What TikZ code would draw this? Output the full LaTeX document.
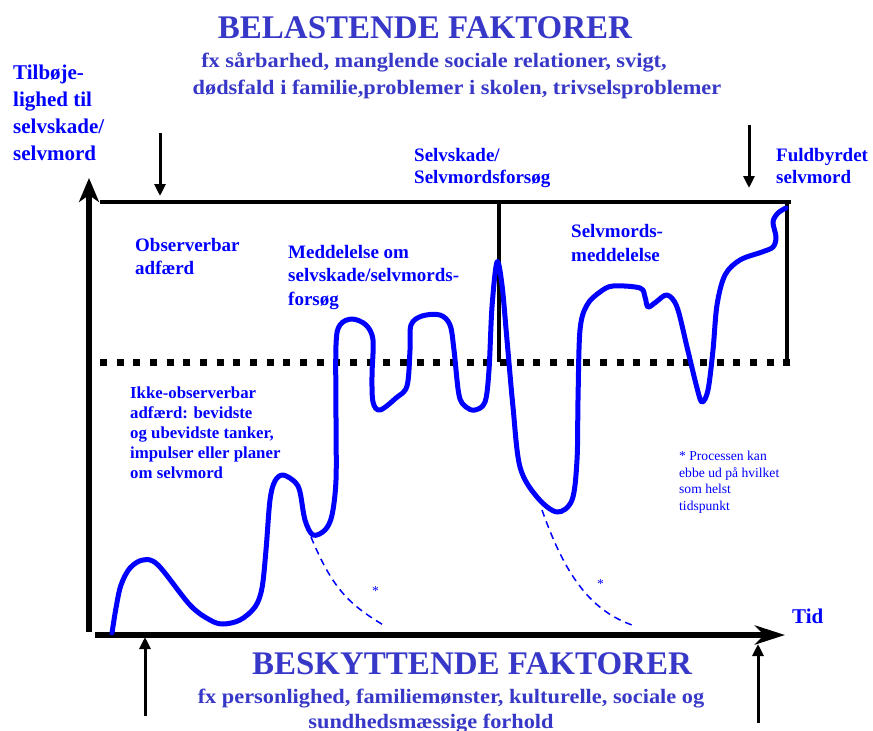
\documentclass[tikz,border=0pt]{standalone}
\usepackage{fontspec}
\setmainfont{Liberation Serif}
\usetikzlibrary{arrows.meta}
\definecolor{tblue}{HTML}{3838C8}
\definecolor{lblue}{HTML}{0000FF}
\begin{document}
\begin{tikzpicture}[x=1pt,y=-1pt,
  lbl/.style={text=lblue, font=\bfseries\fontsize{19}{23.5}\selectfont, align=left, anchor=base west, inner sep=0pt},
  small/.style={text=lblue, font=\bfseries\fontsize{16.8}{20}\selectfont, align=left, anchor=base west, inner sep=0pt},
  note/.style={text=lblue, font=\fontsize{13.6}{16.4}\selectfont, align=left, anchor=base west, inner sep=0pt},
  ttl/.style={text=tblue, font=\bfseries\fontsize{33}{36}\selectfont, anchor=base, inner sep=0pt},
  sub/.style={text=tblue, font=\bfseries\fontsize{20.5}{24}\selectfont, anchor=base, inner sep=0pt},
  axis/.style={line width=5.5pt, black},
  frame/.style={line width=4.5pt, black},
  sarrow/.style={line width=3pt, black, -{Triangle[length=12pt,width=11pt]}},
  curve/.style={line width=5pt, lblue, line cap=round, line join=round},
  ebb/.style={line width=1.5pt, lblue, dash pattern=on 7pt off 5pt},
]
\useasboundingbox (0,0) rectangle (873,731);

% ---- titles
\node[ttl] (belt) at (425,38) {BELASTENDE FAKTORER};
\node[sub] (bel1) at (434,67) {\scalebox{1.09}[1]{fx sårbarhed, manglende sociale relationer, svigt,}};
\node[sub] (bel2) at (457,94) {\scalebox{1.09}[1]{dødsfald i familie,problemer i skolen, trivselsproblemer}};

\node[ttl] (best) at (472,674) {BESKYTTENDE FAKTORER};
\node[sub] (bes1) at (451,703) {\scalebox{1.09}[1]{fx personlighed, familiemønster, kulturelle, sociale og}};
\node[sub] (bes2) at (431,728) {\scalebox{1.09}[1]{sundhedsmæssige forhold}};

% ---- axis labels
\node[lbl, font=\bfseries\fontsize{21}{27}\selectfont] (ylab) at (13,160) {Tilbøje-\\lighed til\\selvskade/\\selvmord};
\node[lbl, font=\bfseries\fontsize{21}{27}\selectfont] (xlab) at (792,623) {Tid};

% ---- frame
\coordinate (yb) at (89,632);
\coordinate (yt) at (89,178);
\coordinate (xl) at (95,635);
\coordinate (xr) at (785,635);
\draw[axis, -{Stealth[length=24pt,width=20pt,inset=7pt]}] (yb) -- (yt);
\draw[axis, -{Stealth[length=30pt,width=19pt,inset=9pt]}] (xl) -- (xr);

\coordinate (tl) at (100,202);
\coordinate (tr) at (791,202);
\coordinate (mt) at (499,202);
\coordinate (mb) at (499,362);
\coordinate (rt) at (787,200);
\coordinate (rb) at (787,362);
\coordinate (dl) at (100,362);
\coordinate (dr) at (792,362);
\draw[frame] (tl) -- (tr);
\draw[line width=3.5pt] (mt) -- (mb);
\draw[line width=4.5pt] (rt) -- (rb);
\draw[line width=7pt, dash pattern=on 7pt off 9.67pt] (dl) -- (dr);

% ---- factor arrows
\coordinate (a1s) at (160,133); \coordinate (a1e) at (160,196);
\coordinate (a2s) at (749,125); \coordinate (a2e) at (749,188);
\coordinate (a3s) at (145,716); \coordinate (a3e) at (145,637);
\coordinate (a4s) at (758,723); \coordinate (a4e) at (758,644);
\draw[sarrow] (a1s) -- (a1e);
\draw[sarrow] (a2s) -- (a2e);
\draw[sarrow] (a3s) -- (a3e);
\draw[sarrow] (a4s) -- (a4e);

% ---- region labels (anchored at the baseline of the last line)
\node[lbl] (sfl) at (414,183) {Selvskade/\\[-1.5pt]Selvmordsforsøg};
\node[lbl] (ful) at (776,183) {Fuldbyrdet\\[-1.5pt]selvmord};
\node[lbl] (obs) at (135,274) {Observerbar\\[-0.5pt]adfærd};
\node[lbl] (med) at (288,305) {Meddelelse om\\selvskade/selvmords-\\forsøg};
\node[lbl] (smm) at (571,261) {Selvmords-\\meddelelse};
\node[small] (ikke) at (130,478) {Ikke-observerbar\\adfærd: bevidste\\og ubevidste tanker,\\impulser eller planer\\om selvmord};
\node[note] (proc) at (679,510) {* Processen kan\\ebbe ud på hvilket\\som helst\\tidspunkt};
\node[note] (st1) at (372,595) {*};
\node[note] (st2) at (597,588) {*};

% ---- the course
\draw[curve] plot[smooth, tension=0.55] coordinates {
 (112,633) (116,608) (121,585) (130,568) (143,560) (158,565) (190,605) (210,620)
 (223,624) (240,620) (255,607) (262,588) (266,550) (270,500) (275,481) (283,475)
 (295,482) (300,492) (305,520) (313,535) (325,530) (332,515) (336,480) (336,420)
 (336,345) (340,325) (352,319) (366,325) (373,340) (372,375) (373,402) (380,410)
 (396,398) (407,386) (410,350) (411,325) (422,316) (440,315) (450,325) (454,350)
 (459,395) (466,407) (475,410) (485,402) (489,370) (492,307) (497,262) (502,285)
 (507,340) (513,407) (520,467) (537,497) (557,512) (572,500) (577,460) (578,400)
 (580,330) (587,305) (600,292) (613,286) (640,288) (645,297) (648,307) (656,302)
 (667,295) (677,307) (687,347) (697,388) (702,402) (708,390) (713,350) (717,305)
 (725,275) (740,260) (762,252) (773,247) (776,237) (773,222) (778,213) (786,208)};

\coordinate (e1a) at (311,537); \coordinate (e1b) at (385,626);
\coordinate (e2a) at (542,510); \coordinate (e2b) at (632,625);
\draw[ebb] (e1a) .. controls (333,590) and (350,605) .. (e1b);
\draw[ebb] (e2a) .. controls (565,575) and (590,610) .. (e2b);
\end{tikzpicture}
\end{document}
